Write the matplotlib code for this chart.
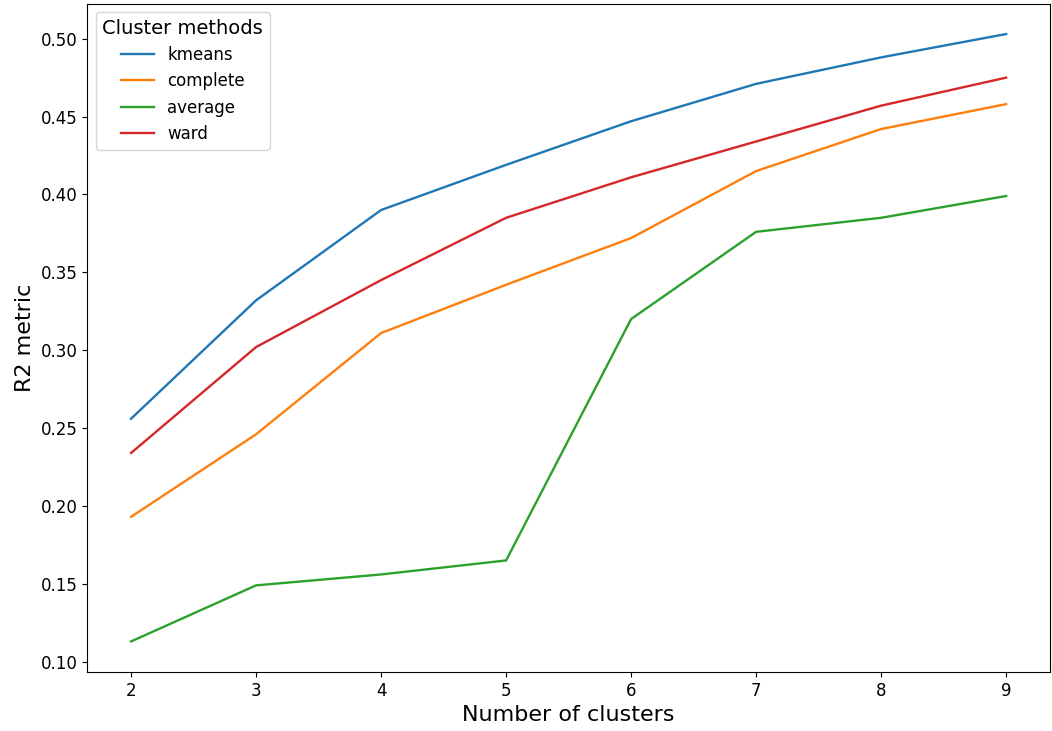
import matplotlib
matplotlib.use("Agg")
import matplotlib.pyplot as plt

n_clusters = [2, 3, 4, 5, 6, 7, 8, 9]
kmeans = [0.256, 0.332, 0.390, 0.419, 0.447, 0.471, 0.488, 0.503]
complete = [0.193, 0.246, 0.311, 0.342, 0.372, 0.415, 0.442, 0.458]
average = [0.113, 0.149, 0.156, 0.165, 0.320, 0.376, 0.385, 0.399]
ward = [0.234, 0.302, 0.345, 0.385, 0.411, 0.434, 0.457, 0.475]

series = [("kmeans", kmeans), ("complete", complete),
          ("average", average), ("ward", ward)]

fig, ax = plt.subplots(figsize=(10.52, 7.31), dpi=100)
for name, vals in series:
    ax.plot(n_clusters, vals, label=name, linewidth=1.7)

ax.set_xlabel("Number of clusters", fontsize=16)
ax.set_ylabel("R2 metric", fontsize=16)
ax.tick_params(labelsize=12)
ax.legend(title="Cluster methods", fontsize=12, title_fontsize=14, loc="upper left")

fig.subplots_adjust(left=0.083, right=0.998, top=0.995, bottom=0.081)
fig.savefig("out.png")
